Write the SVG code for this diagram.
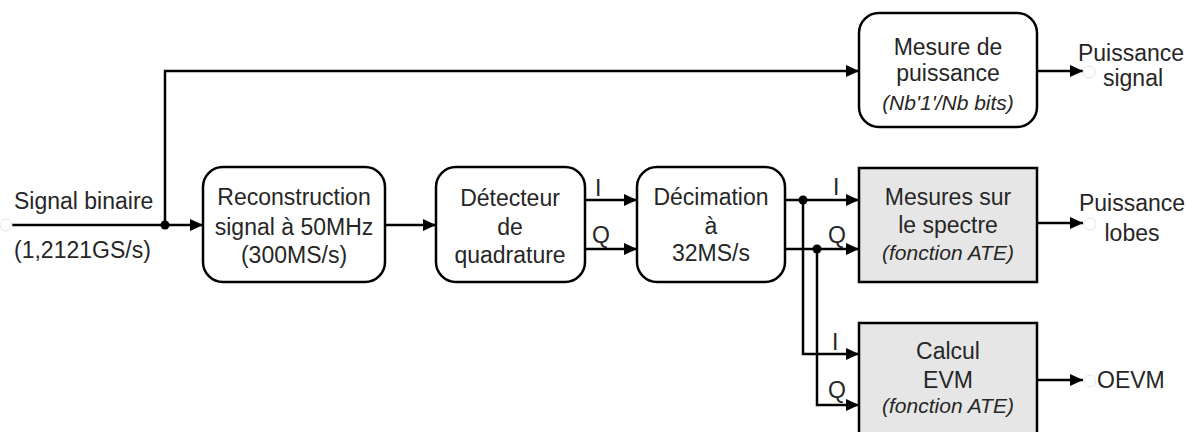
<svg xmlns="http://www.w3.org/2000/svg" width="1193" height="432" viewBox="0 0 1193 432">
<defs>
<style>
.box{fill:#fff;stroke:#000;stroke-width:2.5}
.gbox{fill:#e6e6e6;stroke:#000;stroke-width:2.5}
.t{font-family:"Liberation Sans",Arial,sans-serif;font-size:23px;fill:#262626;text-anchor:middle}
.ti{font-family:"Liberation Sans",Arial,sans-serif;font-size:21px;font-style:italic;fill:#262626;text-anchor:middle}
.l{font-family:"Liberation Sans",Arial,sans-serif;font-size:23px;fill:#262626}
.w{fill:none;stroke:#000;stroke-width:2.5}
.dot{fill:#000}
.pin{fill:#fff;stroke:#e4e4e4;stroke-width:1}
</style>
<marker id="arr" markerUnits="userSpaceOnUse" markerWidth="13" markerHeight="12" refX="13" refY="6" orient="auto">
<path d="M0,0 L13,6 L0,12 z" fill="#000"/>
</marker>
</defs>
<rect width="1193" height="432" fill="#fff"/>

<g id="connectors">
<path class="w" d="M12,225 H203" marker-end="url(#arr)"/>
<path class="w" d="M165,225 V71 H859" marker-end="url(#arr)"/>
<path class="w" d="M385,225 H436" marker-end="url(#arr)"/>
<path class="w" d="M585,200 H637" marker-end="url(#arr)"/>
<path class="w" d="M585,249 H637" marker-end="url(#arr)"/>
<path class="w" d="M785,200 H859" marker-end="url(#arr)"/>
<path class="w" d="M785,249 H859" marker-end="url(#arr)"/>
<path class="w" d="M803,200 V354 H859" marker-end="url(#arr)"/>
<path class="w" d="M817,249 V405 H859" marker-end="url(#arr)"/>
<path class="w" d="M1037,71 H1083" marker-end="url(#arr)"/>
<path class="w" d="M1037,223 H1083" marker-end="url(#arr)"/>
<path class="w" d="M1037,380 H1083" marker-end="url(#arr)"/>
<circle class="dot" cx="165" cy="225" r="4.5"/>
<circle class="dot" cx="803" cy="200" r="4.5"/>
<circle class="dot" cx="817" cy="249" r="4.5"/>
<text class="l" x="595" y="196">I</text>
<text class="l" x="592" y="243">Q</text>
<text class="l" x="833" y="195">I</text>
<text class="l" x="828" y="243">Q</text>
<text class="l" x="832" y="350">I</text>
<text class="l" x="828" y="398">Q</text>
</g>

<g id="input">
<circle class="pin" cx="6" cy="225" r="6"/>
<text class="l" x="14" y="209">Signal binaire</text>
<text class="l" x="14" y="258">(1,2121GS/s)</text>
</g>

<g id="mesure-puissance">
<rect class="box" x="859" y="13" width="178" height="114" rx="20"/>
<text class="t" x="948" y="55">Mesure de</text>
<text class="t" x="948" y="81">puissance</text>
<text class="ti" x="948" y="110">(Nb'1'/Nb bits)</text>
</g>

<g id="out-puissance-signal">
<circle class="pin" cx="1089" cy="72" r="6"/>
<text class="t" x="1131" y="61">Puissance</text>
<text class="t" x="1133" y="86">signal</text>
</g>

<g id="reconstruction">
<rect class="box" x="203" y="167" width="182" height="115" rx="20"/>
<text class="t" x="294" y="205">Reconstruction</text>
<text class="t" x="294" y="235">signal à 50MHz</text>
<text class="t" x="294" y="263">(300MS/s)</text>
</g>

<g id="detecteur">
<rect class="box" x="436" y="167" width="149" height="115" rx="20"/>
<text class="t" x="510" y="206">Détecteur</text>
<text class="t" x="510" y="235">de</text>
<text class="t" x="510" y="263">quadrature</text>
</g>

<g id="decimation">
<rect class="box" x="637" y="167" width="148" height="115" rx="20"/>
<text class="t" x="711" y="205">Décimation</text>
<text class="t" x="711" y="234">à</text>
<text class="t" x="711" y="261">32MS/s</text>
</g>

<g id="mesures-spectre">
<rect class="gbox" x="859" y="168" width="178" height="114"/>
<text class="t" x="948" y="205">Mesures sur</text>
<text class="t" x="948" y="233">le spectre</text>
<text class="ti" x="948" y="260">(fonction ATE)</text>
</g>

<g id="out-puissance-lobes">
<circle class="pin" cx="1090" cy="224" r="6"/>
<text class="t" x="1132" y="211">Puissance</text>
<text class="t" x="1132" y="241">lobes</text>
</g>

<g id="calcul-evm">
<rect class="gbox" x="859" y="323" width="178" height="125"/>
<text class="t" x="948" y="359">Calcul</text>
<text class="t" x="948" y="388">EVM</text>
<text class="ti" x="948" y="413">(fonction ATE)</text>
</g>

<g id="out-oevm">
<circle class="pin" cx="1090" cy="381" r="6"/>
<text class="l" x="1097" y="388">OEVM</text>
</g>
</svg>
